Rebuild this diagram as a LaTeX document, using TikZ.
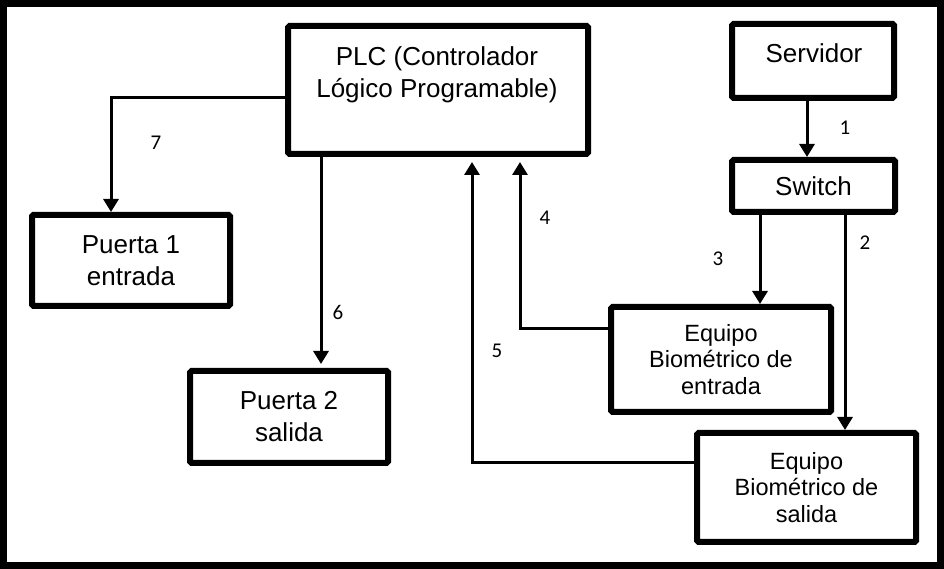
\documentclass[tikz,border=0pt]{standalone}
\usepackage{fontspec}
\setmainfont{Liberation Sans}
\newfontfamily\numfont{Carlito}
\usetikzlibrary{arrows.meta,calc}
\begin{document}
\begin{tikzpicture}[x=1pt,y=1pt,
  box/.style={draw=black,line width=6pt,rounded corners=1.5pt,inner sep=0pt,
    align=center,font=\fontsize{26}{32}\selectfont},
  eqbox/.style={font=\fontsize{23.5}{26.5}\selectfont},
  boxtext/.style={inner sep=0pt,align=center,font=\fontsize{26}{32}\selectfont},
  link/.style={line width=3pt,-{Triangle[width=15pt,length=13pt]}},
  tag/.style={inner sep=0pt,font=\numfont\fontsize{21}{24}\selectfont}]
\useasboundingbox (0,0) rectangle (944,569);
% outer frame
\draw[line width=7pt] (3.5,3.5) rectangle (940.5,565.5);

% blocks
\node[box,minimum width=300pt,minimum height=128pt] (plc) at (438,479) {};
\node[boxtext] (plctxt) at (437,494.7) {PLC (Controlador\\Lógico Programable)};
\node[box,minimum width=162pt,minimum height=74pt] (srv) at (813,508) {};
\node[boxtext,anchor=base] (srvtxt) at (814,506) {Servidor};
\node[box,minimum width=163pt,minimum height=52pt] (sw) at (813.5,383) {Switch};
\node[box,minimum width=198pt,minimum height=91pt] (p1) at (131,308.5) {Puerta 1\\entrada};
\node[box,minimum width=198pt,minimum height=92pt] (p2) at (289,152) {Puerta 2\\salida};
\node[box,eqbox,minimum width=220pt,minimum height=105pt] (bioin) at (721,209.5)
  {Equipo\\Biométrico de\\entrada};
\node[box,eqbox,minimum width=219pt,minimum height=109pt] (bioout) at (806.5,81.5)
  {Equipo\\Biométrico de\\salida};

% connector columns and rows
\coordinate (x1) at (807,0);
\coordinate (x2) at (845,0);
\coordinate (x3) at (760,0);
\coordinate (x4) at (520,0);
\coordinate (x5) at (472,0);
\coordinate (x6) at (321,0);
\coordinate (x7) at (111,0);
\coordinate (r4) at (0,240);
\coordinate (r5) at (0,106);
\coordinate (r7) at (0,471);

% connectors
\draw[link] (srv.south -| x1) -- (sw.north -| x1);
\draw[link] (sw.south -| x2) -- (bioout.north -| x2);
\draw[link] (sw.south -| x3) -- (bioin.north -| x3);
\draw[link,shorten >=5pt] (bioin.west |- r4) -- (x4 |- r4) -- (x4 |- plc.south);
\draw[link,shorten >=5pt] (bioout.west |- r5) -- (x5 |- r5) -- (x5 |- plc.south);
\draw[link,shorten >=4pt] (plc.south -| x6) -- (p2.north -| x6);
\draw[link] (plc.west |- r7) -- (x7 |- r7) -- (p1.north -| x7);

% step numbers
\node[tag] (n1) at (845,441) {1};
\node[tag] (n2) at (865,326) {2};
\node[tag] (n3) at (718,310) {3};
\node[tag] (n4) at (545,351) {4};
\node[tag] (n5) at (497,218) {5};
\node[tag] (n6) at (338,257) {6};
\node[tag] (n7) at (156,426) {7};
\end{tikzpicture}
\end{document}
